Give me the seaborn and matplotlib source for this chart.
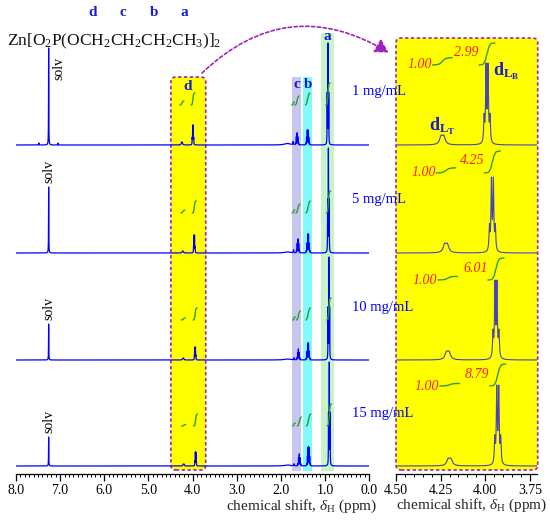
import numpy as np
import matplotlib.pyplot as plt
import seaborn as sns
from matplotlib.patches import FancyBboxPatch, FancyArrowPatch
from matplotlib.transforms import IdentityTransform
from matplotlib.ticker import MultipleLocator, FormatStrFormatter

sns.set_theme(style="white")
plt.rcParams['font.family'] = ['Liberation Serif', 'DejaVu Serif']
plt.rcParams['mathtext.fontset'] = 'custom'
plt.rcParams['mathtext.rm'] = 'Liberation Serif'
plt.rcParams['mathtext.it'] = 'Liberation Serif:italic'
plt.rcParams['mathtext.bf'] = 'Liberation Serif:bold'

# ---- data ----
conc = ['1 mg/mL', '5 mg/mL', '10 mg/mL', '15 mg/mL']
ratio_dLB = [2.99, 4.25, 6.01, 8.79]          # integral dLB / dLT

# chemical shifts (ppm) per concentration
shift_solv = [7.26, 7.26, 7.26, 7.26]
shift_sat_hi = [7.48, 7.48, 7.48, 7.48]
shift_sat_lo = [7.05, 7.05, 7.05, 7.05]
shift_dLT = [4.24, 4.22, 4.21, 4.20]
shift_dLB = [3.99, 3.96, 3.94, 3.93]
shift_hump = [1.85, 1.85, 1.85, 1.85]
shift_c_minor = [1.72, 1.71, 1.70, 1.70]
shift_c = [1.63, 1.61, 1.60, 1.58]
shift_b = [1.39, 1.38, 1.38, 1.37]
shift_a = [0.93, 0.92, 0.91, 0.90]

# peak heights, full spectrum (px)
h_solv = [97, 66, 36, 29]
h_sat = [2, 0, 0, 0]
h_dLT = [3, 2, 2, 2]
h_dLB = [20, 18, 13, 14]
h_hump = [1.5, 1, 1, 1]
h_c_minor = [3, 3, 2, 2]
h_c = [12, 14, 11, 12]
h_b = [15, 19, 17, 19]
h_a = [102, 105, 103, 104]

# peak heights, 4.5-3.75 ppm expansion (px)
hi_dLT = [10, 10, 9, 8]
hi_dLB = [82, 76, 80, 81]

# integral glyph sizes in the full spectrum (px)
int_dLB = [12, 12, 12, 12]
int_c_minor = [3, 3, 3, 3]
int_c = [9, 9, 9, 9]
int_b = [12, 12, 12, 12]
int_a = [22, 22, 22, 22]

# ---- line shapes (pattern, J, half width) ----
SHAPES = {
    'solv': ([1], 0, 0.003), 'sat': ([1], 0, 0.003), 'hump': ([1], 0, 0.08),
    'dLT': ([1, 1], 0.015, 0.010), 'dLB': ([1, 3, 3, 1], 0.011, 0.003),
    'c_minor': ([1], 0, 0.006), 'c': ([1, 4, 6, 4, 1], 0.017, 0.003),
    'b': ([1, 5, 10, 10, 5, 1], 0.017, 0.003), 'a': ([1, 2, 1], 0.017, 0.003),
}


def shape(x, kind, center):
    pattern, J, hw = SHAPES[kind]
    offs = (np.arange(len(pattern)) - (len(pattern) - 1) / 2) * J

    def ev(xx):
        return sum(w / (1 + ((xx - center - o) / hw) ** 2) for w, o in zip(pattern, offs))
    fine = np.linspace(center - 0.2, center + 0.2, 8001)
    return ev(x) / ev(fine).max()


def integral(x, comp, center, w):
    m = (x <= center + w) & (x >= center - w)
    c = np.cumsum(comp[m])
    return x[m], c / c[-1]


W, H = 550, 520
fig = plt.figure(figsize=(5.5, 5.2), dpi=100)
fx = lambda px: px / W
fy = lambda py: 1 - py / H

ax = fig.add_axes([fx(16), fy(474), (369 - 16) / W, (474 - 30) / H])
axr = fig.add_axes([fx(396), fy(474), (537 - 396) / W, (474 - 30) / H])
for a_ in (ax, axr):
    a_.patch.set_alpha(0)

stack_px = [145, 253, 360, 466]      # baselines (image pixel rows)
BLUE = '#0000ff'
GREEN = '#2f9a2f'
PURPLE = '#a020c0'
LBLUE = '#1a1ad0'

x_left = np.linspace(8.0, 0.0, 16001)
x_right = np.linspace(4.5, 3.71, 3161)

left_peaks = [('solv', shift_solv, h_solv), ('sat', shift_sat_hi, h_sat), ('sat', shift_sat_lo, h_sat),
              ('dLT', shift_dLT, h_dLT), ('dLB', shift_dLB, h_dLB), ('hump', shift_hump, h_hump),
              ('c_minor', shift_c_minor, h_c_minor), ('c', shift_c, h_c), ('b', shift_b, h_b),
              ('a', shift_a, h_a)]
left_ints = [('dLB', shift_dLB, int_dLB, 0.045), ('c_minor', shift_c_minor, int_c_minor, 0.03),
             ('c', shift_c, int_c, 0.045), ('b', shift_b, int_b, 0.05), ('a', shift_a, int_a, 0.05)]

for i in range(4):
    base = H - stack_px[i]
    y = np.zeros_like(x_left)
    comps = {}
    for kind, sh, hh in left_peaks:
        comp = hh[i] * shape(x_left, kind, sh[i])
        comps[kind] = comp
        y += comp
    sns.lineplot(x=x_left, y=base + y, ax=ax, color=BLUE, lw=0.9, estimator=None, sort=False, zorder=3)

    # integral glyphs
    ib = base + 40
    xs, cs = integral(x_left, comps['dLT'], shift_dLT[i], 0.045)
    sns.lineplot(x=xs, y=ib + cs * int_dLB[i] / ratio_dLB[i], ax=ax, color=GREEN, lw=1,
                 estimator=None, sort=False, zorder=4)
    for kind, sh, rise, w in left_ints:
        xs, cs = integral(x_left, comps[kind], sh[i], w)
        sns.lineplot(x=xs, y=ib + cs * rise[i], ax=ax, color=GREEN, lw=1,
                     estimator=None, sort=False, zorder=4)

    # solvent label
    if i == 0:
        ax.text(7.02, H - 80, 'solv', rotation=90, ha='center', va='bottom', fontsize=10, color='black')
    else:
        ax.text(7.25, base + h_solv[i] + 4, 'solv', rotation=90, ha='center', va='bottom',
                fontsize=10, color='black')

    # expansion 4.5 - 3.75 ppm
    t = hi_dLT[i] * shape(x_right, 'dLT', shift_dLT[i])
    bb = hi_dLB[i] * shape(x_right, 'dLB', shift_dLB[i])
    sns.lineplot(x=x_right, y=base + t + bb, ax=axr, color='#4646b4', lw=0.8,
                 estimator=None, sort=False, zorder=3)
    ib = base + 80
    sc = 22 / ratio_dLB[i]
    xs, cs = integral(x_right, t, shift_dLT[i], 0.055)
    sns.lineplot(x=xs, y=ib + cs * sc, ax=axr, color=GREEN, lw=1, estimator=None, sort=False, zorder=4)
    axr.text(shift_dLT[i] + 0.058, ib, '1.00', ha='right', va='center', color='#ff1a1a',
             fontsize=10, style='italic', zorder=6)
    xs, cs = integral(x_right, bb, shift_dLB[i], 0.045)
    sns.lineplot(x=xs, y=ib + cs * sc * ratio_dLB[i], ax=axr, color=GREEN, lw=1,
                 estimator=None, sort=False, zorder=4)
    axr.text(shift_dLB[i] + 0.047, ib + 12, f'{ratio_dLB[i]:.2f}', ha='right', va='center',
             color='#ff1a1a', fontsize=10, style='italic', zorder=6)

axr.text(3.958, H - 71, r'$\mathbf{d_{L_B}}$', color=LBLUE, fontsize=13, ha='left', va='center', zorder=6)
axr.text(4.243, H - 126, r'$\mathbf{d_{L_T}}$', color=LBLUE, fontsize=13, ha='center', va='center', zorder=6)

# ---- axes styling ----
for a_, lim, maj, mn, fmt in ((ax, (8.0, 0.0), 1.0, 0.1, '%.1f'), (axr, (4.5, 3.71), 0.25, 0.05, '%.2f')):
    a_.set_xlim(*lim)
    a_.set_ylim(H - 474, H - 30)
    a_.set_yticks([])
    a_.set_xlabel('')
    a_.set_ylabel('')
    for s in ('top', 'left', 'right'):
        a_.spines[s].set_visible(False)
    a_.spines['bottom'].set_color('black')
    a_.spines['bottom'].set_linewidth(0.9)
    a_.xaxis.set_major_locator(MultipleLocator(maj))
    a_.xaxis.set_minor_locator(MultipleLocator(mn))
    a_.xaxis.set_major_formatter(FormatStrFormatter(fmt))
    a_.tick_params(axis='x', which='major', bottom=True, direction='out', length=5, width=0.9,
                   color='black', labelsize=10, pad=2, labelcolor='black')
    a_.tick_params(axis='x', which='minor', bottom=True, direction='out', length=2.5, width=0.7,
                   color='black')

# highlight bands on the full spectrum
ybot = (474 - 471) / 444
ax.axvspan(1.74, 1.54, ymin=ybot, ymax=(474 - 77) / 444, color='#c6c6ee', lw=0, zorder=1)
ax.axvspan(1.49, 1.29, ymin=ybot, ymax=(474 - 77) / 444, color='#80fafa', lw=0, zorder=1)
ax.axvspan(1.08, 0.79, ymin=ybot, ymax=(474 - 33) / 444, color='#c6f4c6', lw=0, zorder=1)


def rounded_box(axis, ppm_hi, ppm_lo, top_px, bot_px):
    x0 = axis.transData.transform((ppm_hi, 0))[0]
    x1 = axis.transData.transform((ppm_lo, 0))[0]
    p = FancyBboxPatch((x0, H - bot_px), x1 - x0, bot_px - top_px,
                       boxstyle='round,pad=0,rounding_size=5', transform=IdentityTransform(),
                       facecolor='#ffff00', edgecolor=PURPLE, linestyle=(0, (2, 1.5)), lw=1.2,
                       zorder=1, clip_on=False)
    axis.add_patch(p)


rounded_box(ax, 4.49, 3.70, 77, 470)
rounded_box(axr, 4.5, 3.706, 38, 470)

# group letters
for lab, pos, ypx in (('d', 4.10, 86), ('c', 1.64, 84), ('b', 1.39, 84), ('a', 0.935, 37)):
    ax.text(pos, H - ypx, lab, color=LBLUE, fontsize=11, fontweight='bold', ha='center',
            va='center', zorder=6)

# formula, with group letters centred over each "CH"
fkw = dict(fontsize=12.5, va='center')
fig.text(fx(7), fy(41), r'Zn[O$_2$P(OCH$_2$CH$_2$CH$_2$CH$_3$)]$_2$', color='#111111', **fkw)
renderer = fig.canvas.get_renderer()


def right_edge(s):
    tt = fig.text(fx(7), fy(41), s, **fkw)
    x1 = tt.get_window_extent(renderer).x1
    tt.remove()
    return x1


pre = r'Zn[O$_2$P(O'
for lab in ('d', 'c', 'b', 'a'):
    xa = right_edge(pre)
    xb = right_edge(pre + 'CH')
    fig.text((xa + xb) / 2 / W, fy(13), lab, color=LBLUE, fontsize=11, fontweight='bold',
             ha='center', va='center')
    pre = pre + r'CH$_2$'

# concentration labels
for lab, py in zip(conc, (92, 200, 307, 413)):
    fig.text(fx(352), fy(py), lab, color=BLUE, fontsize=10.5, va='center', zorder=10)

# axis titles
xlab = r'chemical shift, $\delta_{\mathrm{H}}$ (ppm)'
fig.text(fx(377), fy(506), xlab, ha='right', va='center', fontsize=11)
fig.text(fx(472), fy(505), xlab, ha='center', va='center', fontsize=11)

# curved arrow from the d box to the expansion
arrow = FancyArrowPatch((200, H - 75), (391, H - 54), connectionstyle='arc3,rad=-0.39',
                        arrowstyle='-|>,head_length=0.8,head_width=0.45', mutation_scale=10,
                        transform=IdentityTransform(), color=PURPLE, linestyle=(0, (2, 1.5)), lw=1.2)
fig.add_artist(arrow)

fig.savefig('out.png', dpi=100)
